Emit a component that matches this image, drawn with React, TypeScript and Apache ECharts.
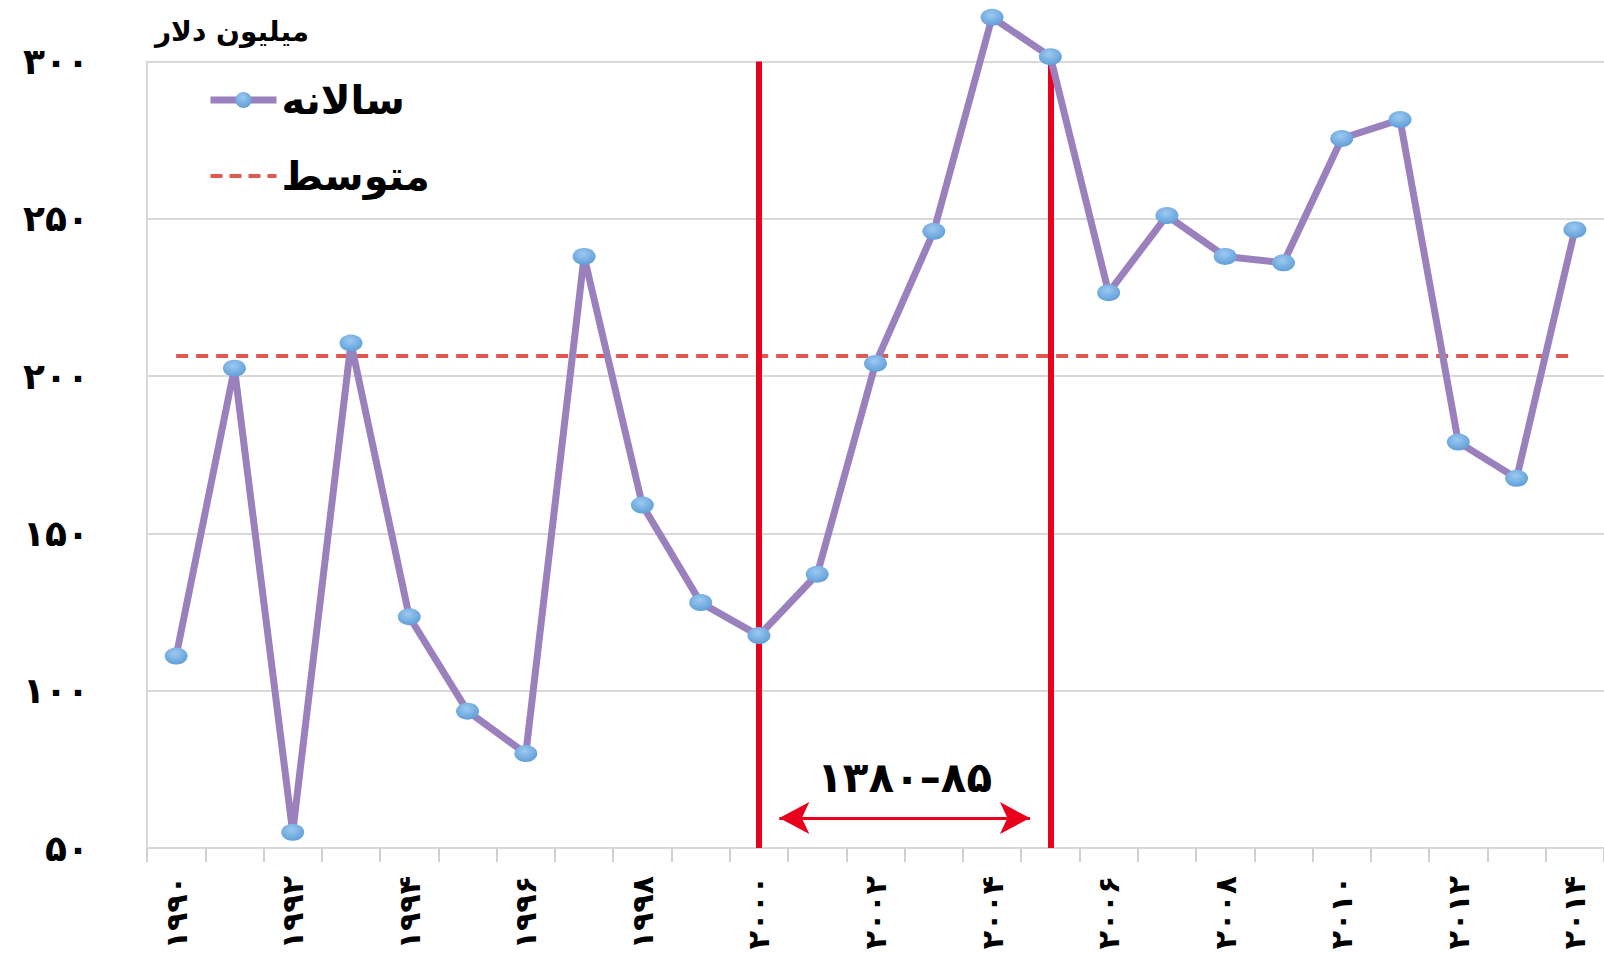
import React, { useEffect, useRef } from "react";
import * as echarts from "echarts";

const years = [
  "۱۹۹۰", "۱۹۹۱", "۱۹۹۲", "۱۹۹۳", "۱۹۹۴", "۱۹۹۵", "۱۹۹۶", "۱۹۹۷", "۱۹۹۸", "۱۹۹۹",
  "۲۰۰۰", "۲۰۰۱", "۲۰۰۲", "۲۰۰۳", "۲۰۰۴", "۲۰۰۵", "۲۰۰۶", "۲۰۰۷", "۲۰۰۸", "۲۰۰۹",
  "۲۰۱۰", "۲۰۱۱", "۲۰۱۲", "۲۰۱۳", "۲۰۱۴",
];
const annualValues = [
  111, 202.5, 55, 210.5, 123.5, 93.5, 80, 238, 159, 128,
  117.5, 137, 204, 246, 314, 301.5, 226.5, 251, 238, 236,
  275.5, 281.5, 179, 167.5, 246.5,
];
const averageValue = 206.4;
const yTickLabels = ["۵۰", "۱۰۰", "۱۵۰", "۲۰۰", "۲۵۰", "۳۰۰"];
const eraBounds = [10, 15];
const arrowSpan = [10.35, 14.65];
const arrowLevel = 59.5;
const eraLabel = "۱۳۸۰–۸۵";
const seriesNames = ["سالانه", "متوسط"];
const unitName = "میلیون دلار";

const FONT = "DejaVu Sans";

export default function App() {
  const ref = useRef<HTMLDivElement>(null);
  useEffect(() => {
    if (!ref.current) return;
    const chart = echarts.init(ref.current, undefined, { renderer: "svg" });
    const red = "#E8001C";
    const avgColor = "#DC5A50";
    const lineColor = "#9A80BD";
    chart.setOption({
      animation: false,
      backgroundColor: "#ffffff",
      grid: {
        left: 147,
        right: 0,
        top: 61.4,
        bottom: 105,
        containLabel: false,
        outerBoundsMode: "none",
      },
      legend: {
        orient: "vertical",
        left: 202,
        top: 74,
        itemWidth: 66,
        itemHeight: 20,
        itemGap: 34,
        data: [
          { name: seriesNames[0], lineStyle: { width: 7, color: lineColor } },
          {
            name: seriesNames[1],
            itemStyle: { color: "rgba(0,0,0,0)", borderWidth: 0, opacity: 0 },
            lineStyle: { width: 4, color: avgColor, type: [12, 7] },
          },
        ],
        textStyle: {
          fontFamily: FONT,
          fontSize: 40,
          fontWeight: "bold",
          color: "#000",
          lineHeight: 42,
        },
      },
      xAxis: [
        {
          type: "category",
          data: years,
          boundaryGap: true,
          axisLine: { show: true, lineStyle: { color: "#D9D9D9", width: 2 } },
          axisTick: { show: true, interval: 0, length: 14, lineStyle: { color: "#D0D0D0", width: 2 } },
          axisLabel: {
            interval: 1,
            rotate: 90,
            margin: 28,
            fontFamily: FONT,
            fontWeight: "bold",
            fontSize: 30,
            color: "#000",
          },
          splitLine: { show: false },
        },
        { type: "value", min: -0.5, max: 24.5, show: false },
      ],
      yAxis: {
        type: "value",
        min: 50,
        max: 300,
        interval: 50,
        name: unitName,
        nameLocation: "end",
        nameGap: 16,
        nameTextStyle: {
          fontFamily: FONT,
          fontSize: 28,
          fontWeight: "bold",
          color: "#000",
          align: "left",
          verticalAlign: "bottom",
          padding: [0, 0, 0, 8],
        },
        axisLine: { show: true, onZero: false, lineStyle: { color: "#D9D9D9", width: 2 } },
        axisTick: { show: false },
        axisLabel: {
          margin: 58,
          fontFamily: FONT,
          fontWeight: "bold",
          fontSize: 36,
          color: "#000",
          formatter: (v: number) => yTickLabels[Math.round((v - 50) / 50)] ?? "",
        },
        splitLine: { show: true, lineStyle: { color: "#D9D9D9", width: 2 } },
      },
      series: [
        {
          name: seriesNames[1],
          type: "line",
          xAxisIndex: 1,
          data: [
            [0, averageValue],
            [annualValues.length - 1, averageValue],
          ],
          symbol: "none",
          z: 2,
          color: avgColor,
          lineStyle: { color: avgColor, width: 4, type: [12, 8] },
          markLine: {
            silent: true,
            symbol: "none",
            animation: false,
            data: [
              [
                { coord: [eraBounds[0], 50], lineStyle: { color: red, width: 6, type: "solid" } },
                { coord: [eraBounds[0], 300] },
              ],
              [
                { coord: [eraBounds[1], 50], lineStyle: { color: red, width: 6, type: "solid" } },
                { coord: [eraBounds[1], 300] },
              ],
              [
                {
                  coord: [arrowSpan[0], arrowLevel],
                  symbol: "arrow",
                  symbolSize: [24, 30],
                  lineStyle: { color: red, width: 3, type: "solid" },
                  label: {
                    show: true,
                    position: "insideMiddleTop",
                    distance: 20,
                    formatter: eraLabel,
                    fontFamily: FONT,
                    fontWeight: "bold",
                    fontSize: 42,
                    color: "#000",
                  },
                },
                { coord: [arrowSpan[1], arrowLevel], symbol: "arrow", symbolSize: [24, 30] },
              ],
            ],
            label: { show: false },
          },
        },
        {
          name: seriesNames[0],
          type: "line",
          data: annualValues,
          clip: false,
          z: 5,
          symbol: "circle",
          symbolSize: [23, 17],
          color: lineColor,
          lineStyle: { color: lineColor, width: 7 },
          itemStyle: {
            color: {
              type: "radial",
              x: 0.45,
              y: 0.35,
              r: 0.7,
              colorStops: [
                { offset: 0, color: "#9CC9F2" },
                { offset: 1, color: "#5B9BD5" },
              ],
            },
            borderWidth: 0,
          },
        },
      ],
    });
    return () => chart.dispose();
  }, []);
  return (
    <div
      ref={ref}
      style={{ position: "absolute", left: 0, top: 0, width: 1604, height: 953 }}
    />
  );
}
